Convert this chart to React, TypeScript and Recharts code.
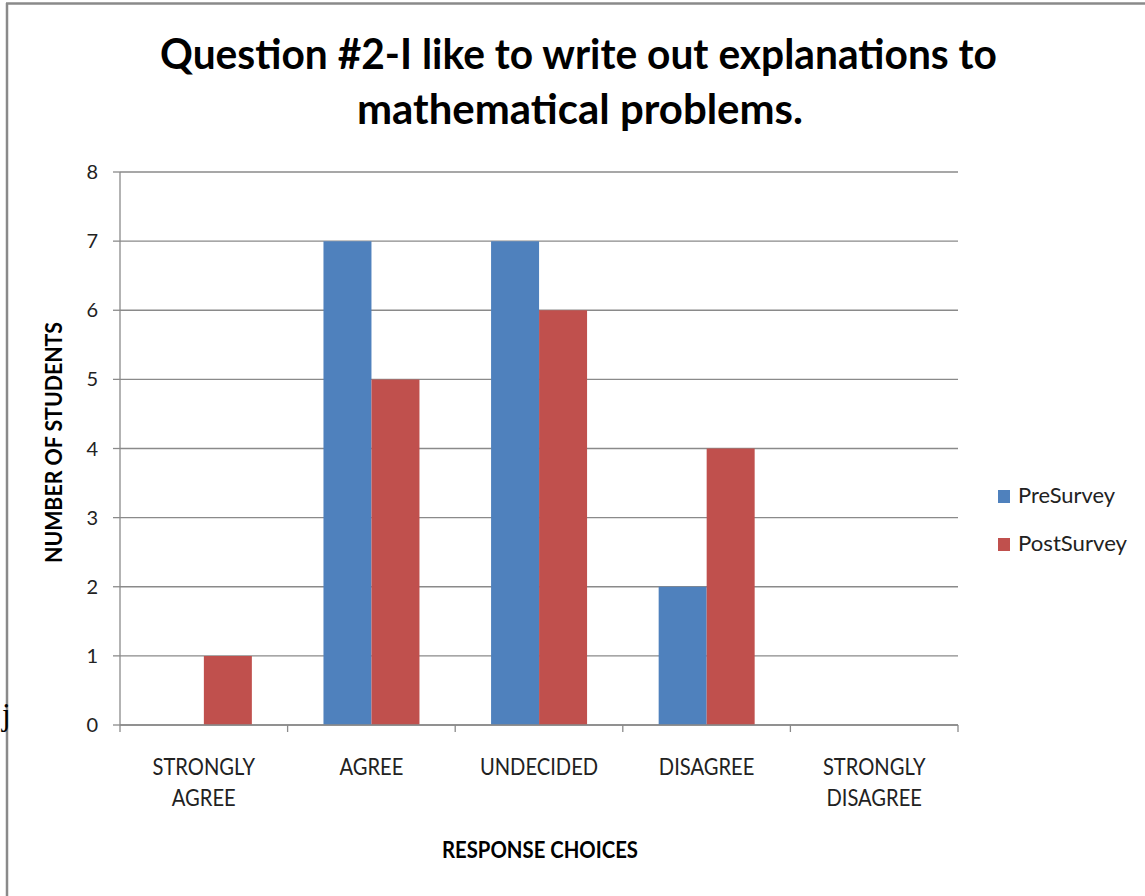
import React from 'react';
import { BarChart, Bar, XAxis, YAxis, CartesianGrid } from 'recharts';

const categories = ['STRONGLY AGREE', 'AGREE', 'UNDECIDED', 'DISAGREE', 'STRONGLY DISAGREE'];
const preSurvey = [0, 7, 7, 2, 0];
const postSurvey = [1, 5, 6, 4, 0];
const yTicks = [0, 1, 2, 3, 4, 5, 6, 7, 8];
const seriesNames = ['PreSurvey', 'PostSurvey'];
const seriesColors = ['#4F81BD', '#C0504D'];
const titleLines = ['Question #2-I like to write out explanations to', 'mathematical problems.'];
const yTitle = 'NUMBER OF STUDENTS';
const xTitle = 'RESPONSE CHOICES';

const data = categories.map((c, i) => ({ name: c, pre: preSurvey[i], post: postSurvey[i] }));

const FONT = 'Lato, "Open Sans", sans-serif';
const GRID = '#8a8a8a';
const TICK_SX = 0.84;
const CHART_W = 1145;
const CHART_H = 896;
const MARGIN = { top: 172, right: 187, bottom: 111, left: 0 };
const Y_AXIS_W = 120;
const PLOT_W = CHART_W - MARGIN.right - MARGIN.left - Y_AXIS_W;
const HALF_BAND = PLOT_W / categories.length / 2;

function CategoryTick(props: any) {
  const { x, y, payload, index } = props;
  const words = String(payload.value).split(' ');
  const isLast = index === categories.length - 1;
  return (
    <g transform={`translate(${x},${y})`}>
      <line x1={-HALF_BAND} y1={0} x2={-HALF_BAND} y2={7} stroke={GRID} strokeWidth={1.3} />
      {isLast && <line x1={HALF_BAND} y1={0} x2={HALF_BAND} y2={7} stroke={GRID} strokeWidth={1.3} />}
      <g transform={`scale(${TICK_SX},1)`}>
        <text textAnchor="middle" fontFamily={FONT} fontSize={24} fill="#222">
          {words.map((w, i) => (
            <tspan key={i} x={0} y={50 + i * 31}>
              {w}
            </tspan>
          ))}
        </text>
      </g>
    </g>
  );
}

export default function App() {
  return (
    <div style={{ position: 'absolute', left: 0, top: 0, width: CHART_W, height: CHART_H, background: '#fff', overflow: 'hidden' }}>
      <div style={{ position: 'absolute', left: 0, top: 0 }}>
        <BarChart
          width={CHART_W}
          height={CHART_H}
          data={data}
          margin={MARGIN}
          barCategoryGap="21.4%"
          barGap={0}
        >
          <CartesianGrid vertical={false} stroke={GRID} strokeWidth={1.3} />
          <XAxis
            dataKey="name"
            interval={0}
            tickLine={false}
            tickSize={0}
            tickMargin={0}
            axisLine={{ stroke: GRID, strokeWidth: 1.3 }}
            tick={<CategoryTick />}
            height={60}
          />
          <YAxis
            width={Y_AXIS_W}
            domain={[0, 8]}
            ticks={yTicks}
            interval={0}
            tickSize={7}
            tickMargin={15}
            axisLine={{ stroke: GRID, strokeWidth: 1.3 }}
            tickLine={{ stroke: GRID, strokeWidth: 1.3 }}
            tick={{ fontFamily: FONT, fontSize: 20, fill: '#222' }}
          />
          <Bar dataKey="pre" name={seriesNames[0]} fill={seriesColors[0]} isAnimationActive={false} />
          <Bar dataKey="post" name={seriesNames[1]} fill={seriesColors[1]} isAnimationActive={false} />
        </BarChart>
      </div>
      <svg width={CHART_W} height={CHART_H} style={{ position: 'absolute', left: 0, top: 0, pointerEvents: 'none' }}>
        <line x1={7} y1={3} x2={7} y2={896} stroke="#8a8a8a" strokeWidth={2.5} />
        <line x1={6} y1={3.5} x2={1145} y2={3.5} stroke="#8a8a8a" strokeWidth={2.5} />
        <text x={578.5} y={69} textAnchor="middle" fontFamily={FONT} fontWeight={700} fontSize={42} fill="#000" textLength={837} lengthAdjust="spacingAndGlyphs">
          {titleLines[0]}
        </text>
        <text x={580} y={124} textAnchor="middle" fontFamily={FONT} fontWeight={700} fontSize={42} fill="#000" textLength={446} lengthAdjust="spacingAndGlyphs">
          {titleLines[1]}
        </text>
        <text transform="translate(62,442.5) rotate(-90)" textAnchor="middle" fontFamily={FONT} fontWeight={700} fontSize={23} fill="#000" textLength={241} lengthAdjust="spacingAndGlyphs">
          {yTitle}
        </text>
        <text x={540} y={858} textAnchor="middle" fontFamily={FONT} fontWeight={700} fontSize={23} fill="#000" textLength={196} lengthAdjust="spacingAndGlyphs">
          {xTitle}
        </text>
        {seriesNames.map((n, i) => (
          <g key={n}>
            <rect x={998} y={490 + i * 48} width={12} height={13} fill={seriesColors[i]} />
            <text x={1018} y={503 + i * 48} fontFamily={FONT} fontSize={22} fill="#222" textLength={i === 0 ? 97 : 109} lengthAdjust="spacingAndGlyphs">
              {n}
            </text>
          </g>
        ))}
        <text x={2} y={725} fontFamily='"Liberation Serif", "DejaVu Serif", serif' fontSize={31} fill="#000">
          j
        </text>
      </svg>
    </div>
  );
}
